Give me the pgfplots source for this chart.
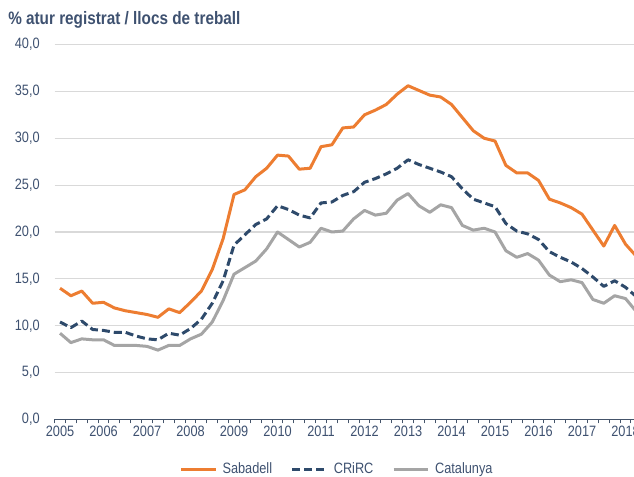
\documentclass[border=0pt]{standalone}
\usepackage{pgfplots}
\pgfplotsset{compat=1.18}
\usepackage{pgfplotstable}
\usepackage{fontspec}
\setmainfont{Liberation Sans}[FakeStretch=0.85]
\definecolor{cOrange}{HTML}{ED7D31}
\definecolor{cNavy}{HTML}{2E4A6B}
\definecolor{cGray}{HTML}{A5A5A5}
\definecolor{cText}{HTML}{3E5170}
\definecolor{cAxis}{HTML}{44546A}
\definecolor{cGrid}{HTML}{D9D9D9}
\pgfplotstableread{
i sab crirc cat
0 14.0 10.4 9.2
1 13.2 9.8 8.2
2 13.7 10.5 8.6
3 12.4 9.6 8.5
4 12.5 9.5 8.5
5 11.9 9.3 7.9
6 11.6 9.3 7.9
7 11.4 8.9 7.9
8 11.2 8.6 7.8
9 10.9 8.5 7.4
10 11.8 9.2 7.9
11 11.4 9.0 7.9
12 12.5 9.7 8.6
13 13.7 10.7 9.1
14 16.0 12.4 10.4
15 19.3 14.8 12.7
16 24.0 18.6 15.5
17 24.5 19.7 16.2
18 25.9 20.8 16.9
19 26.8 21.4 18.2
20 28.2 22.8 20.0
21 28.1 22.4 19.2
22 26.7 21.8 18.4
23 26.8 21.5 18.9
24 29.1 23.1 20.4
25 29.3 23.2 20.0
26 31.1 23.9 20.1
27 31.2 24.3 21.4
28 32.5 25.3 22.3
29 33.0 25.7 21.8
30 33.6 26.2 22.0
31 34.7 26.8 23.4
32 35.6 27.7 24.1
33 35.1 27.2 22.8
34 34.6 26.8 22.1
35 34.4 26.4 22.9
36 33.6 25.9 22.6
37 32.2 24.6 20.7
38 30.8 23.5 20.2
39 30.0 23.1 20.4
40 29.7 22.7 20.0
41 27.1 20.9 18.0
42 26.3 20.1 17.3
43 26.3 19.8 17.7
44 25.5 19.2 17.0
45 23.5 17.9 15.4
46 23.1 17.3 14.7
47 22.6 16.8 14.9
48 21.9 16.1 14.6
49 20.2 15.2 12.8
50 18.5 14.2 12.4
51 20.7 14.8 13.2
52 18.7 14.1 12.9
53 17.4 13.1 11.5
}\datatable
\begin{document}
\begin{tikzpicture}
\begin{axis}[
  at={(40.95pt,43.125pt)}, anchor=south west,
  scale only axis,
  width=434.55pt, height=281.25pt,
  xmin=-0.5, xmax=52.78,
  ymin=0, ymax=40,
  ytick={0,5,...,40},
  yticklabels={{0,0},{5,0},{10,0},{15,0},{20,0},{25,0},{30,0},{35,0},{40,0}},
  xtick={0,4,...,52},
  xticklabels={2005,2006,2007,2008,2009,2010,2011,2012,2013,2014,2015,2016,2017,2018},
  minor xtick={-0.5,0.5,...,53.5},
  tick align=outside,
  major tick length=0pt,
  minor tick length=3pt,
  minor x tick style={cAxis, line width=0.75pt},
  ymajorgrids,
  major grid style={cGrid, line width=0.9pt},
  axis x line*=bottom,
  axis y line*=left,
  x axis line style={cAxis, line width=0.75pt, -},
  y axis line style={draw=none},
  ticklabel style={font=\fontsize{11.25pt}{13pt}\selectfont, text=cText},
  yticklabel style={inner sep=0pt, anchor=east, xshift=-11pt},
  xticklabel style={inner sep=0pt, anchor=north, yshift=-5pt},
  clip=true,
  axis on top=false,
  legend columns=3,
  legend style={draw=none, fill=none, at={(0.4857,-0.132)}, anchor=center,
    font=\fontsize{11.25pt}{13pt}\selectfont, text=cText,
    nodes={inner sep=0pt},
    /tikz/every odd column/.append style={column sep=4pt},
    /tikz/every even column/.append style={column sep=14pt}},
  legend image code/.code={\draw[#1] (0pt,0pt) -- (26pt,0pt);},
]
\addplot[cOrange, line width=2.25pt, line join=round] table[x=i, y=sab] {\datatable};
\addlegendentry{Sabadell}
\addplot[cNavy, line width=2.25pt, line join=round, dash pattern=on 6pt off 3pt] table[x=i, y=crirc] {\datatable};
\addlegendentry{CRiRC}
\addplot[cGray, line width=2.25pt, line join=round] table[x=i, y=cat] {\datatable};
\addlegendentry{Catalunya}
\end{axis}
\node[anchor=base west, inner sep=0pt, text=cText, font=\bfseries\fontsize{13.5pt}{16pt}\selectfont] at (6pt,339pt) {\% atur registrat / llocs de treball};
\pgfresetboundingbox
\path[use as bounding box] (0pt,0pt) rectangle (475.5pt,357.75pt);
\end{tikzpicture}
\end{document}
